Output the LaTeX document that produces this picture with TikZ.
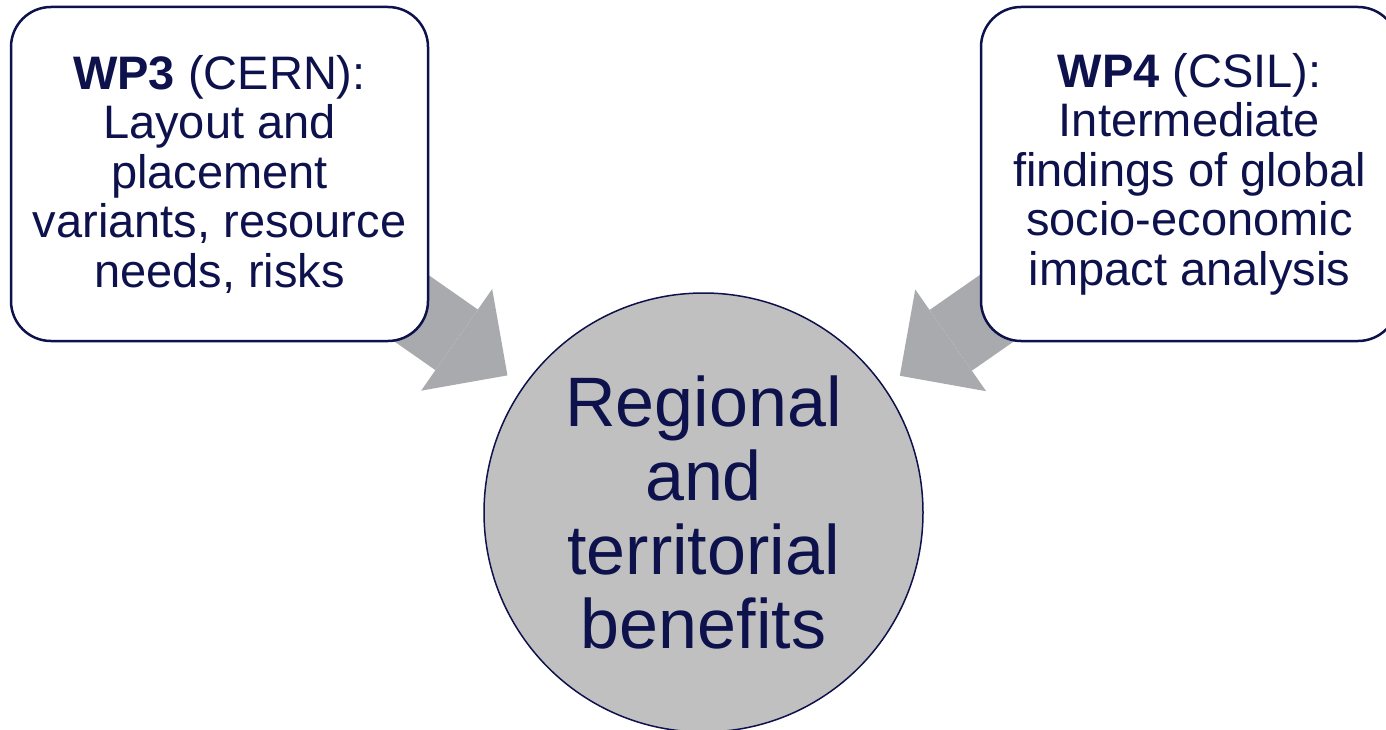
\documentclass[tikz,border=0pt]{standalone}
\usepackage{fontspec}
\setmainfont{Liberation Sans}
\usetikzlibrary{arrows.meta}
\definecolor{navy}{RGB}{13,17,76}
\definecolor{arrowgray}{RGB}{169,170,174}
\definecolor{circgray}{RGB}{192,192,192}
\pgfdeclarelayer{bg}
\pgfsetlayers{bg,main}
\tikzset{
  wpbox/.style={draw=navy, line width=2.5pt, fill=white, rounded corners=40pt,
    minimum width=417pt, minimum height=334pt, inner sep=0pt, align=center,
    text=navy, font=\fontsize{47}{49.5}\selectfont},
  centre/.style={circle, draw=navy, line width=1.5pt, fill=circgray,
    minimum size=439pt, inner sep=0pt, align=center, text=navy,
    font=\fontsize{70}{74}\selectfont},
  fatarrow/.style={draw=arrowgray, line width=74pt, shorten >=19pt,
    -{Triangle[length=62pt, width=124pt, line width=0pt, fill=arrowgray]}}
}
\begin{document}
\begin{tikzpicture}[x=1pt, y=-1pt]
\useasboundingbox (0,0) rectangle (1386,730);
\clip (0,0) rectangle (1386,730);
\node[wpbox] (wp3) at (219.5,174) {\textbf{WP3} (CERN):\\Layout and\\placement\\variants, resource\\needs, risks};
\node[wpbox] (wp4) at (1189.5,174) {\textbf{WP4} (CSIL):\\Intermediate\\findings of global\\socio-economic\\impact analysis};
\node[centre] (rtb) at (703.5,512.5) {Regional\\and\\territorial\\benefits};
\begin{pgfonlayer}{bg}
\draw[fatarrow] (wp3.center) -- (rtb);
\draw[fatarrow] (wp4.center) -- (rtb);
\end{pgfonlayer}
\end{tikzpicture}
\end{document}
